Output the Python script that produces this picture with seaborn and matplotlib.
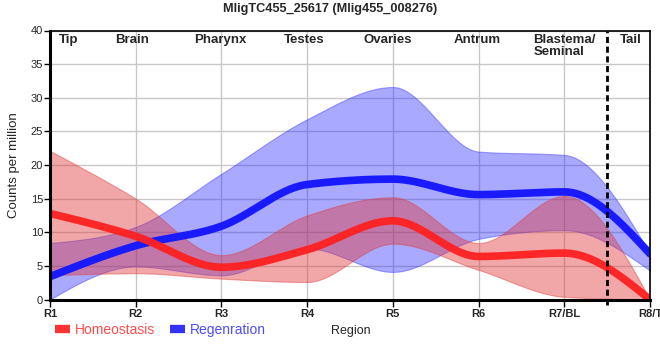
import numpy as np
import pandas as pd
import matplotlib.pyplot as plt
import seaborn as sns
from matplotlib.lines import Line2D

# Valores (counts per million por regiao)
regions = ['R1', 'R2', 'R3', 'R4', 'R5', 'R6', 'R7/BL', 'R8/T']
sections = ['Tip', 'Brain', 'Pharynx', 'Testes', 'Ovaries', 'Antrum', 'Blastema/\nSeminal', 'Tail']
section_pos = [0.22, 0.96, 1.99, 2.96, 3.94, 4.98, 5.64, 6.78]

homeo_mean = [12.8, 9.4, 4.8, 7.4, 11.7, 6.4, 6.9, 0.0]
homeo_low = [3.6, 3.9, 3.1, 2.6, 8.3, 4.4, 0.4, 0.0]
homeo_high = [22.1, 15.0, 6.6, 12.5, 15.2, 8.4, 15.4, 0.0]

regen_mean = [3.4, 8.0, 10.9, 17.1, 17.9, 15.6, 16.0, 6.8]
regen_low = [0.0, 4.9, 3.6, 7.6, 4.1, 9.0, 10.3, 4.3]
regen_high = [8.4, 10.8, 18.7, 26.8, 31.6, 22.0, 21.5, 6.8]


# curva suave monotona (tipo d3 monotoneX) so para desenhar
def monotone(y, n=60):
    y = np.asarray(y, dtype=float)
    x = np.arange(len(y), dtype=float)
    s = np.diff(y)
    t = np.zeros(len(y))
    for i in range(1, len(y) - 1):
        s0, s1 = s[i - 1], s[i]
        p = (s0 + s1) / 2
        t[i] = (np.sign(s0) + np.sign(s1)) * min(abs(s0), abs(s1), 0.5 * abs(p))
    t[0] = (3 * s[0] - t[1]) / 2
    t[-1] = (3 * s[-1] - t[-2]) / 2
    xs, ys = [], []
    for i in range(len(y) - 1):
        u = np.linspace(0, 1, n, endpoint=(i == len(y) - 2))
        h00 = 2 * u**3 - 3 * u**2 + 1
        h10 = u**3 - 2 * u**2 + u
        h01 = -2 * u**3 + 3 * u**2
        h11 = u**3 - u**2
        xs.append(x[i] + u)
        ys.append(h00 * y[i] + h10 * t[i] + h01 * y[i + 1] + h11 * t[i + 1])
    return np.concatenate(xs), np.concatenate(ys)


sns.set_theme(style='whitegrid')
plt.rcParams['font.family'] = ['Liberation Sans', 'DejaVu Sans']

fig = plt.figure(figsize=(6.6, 3.6), dpi=100)
ax = fig.add_axes([50 / 660, 1 - 299.5 / 360, 600 / 660, 269 / 360])

red_line = '#ff2020'
blue_line = '#1a1aff'

# Regeneracao (embaixo)
xs, lo = monotone(regen_low)
_, hi = monotone(regen_high)
ax.fill_between(xs, lo, hi, color='#2828ff', alpha=0.4, lw=0.8)
xs, m = monotone(regen_mean)
sns.lineplot(x=xs, y=m, ax=ax, color=blue_line, lw=5.5, sort=False)

# Homeostase (em cima)
xs, lo = monotone(homeo_low)
_, hi = monotone(homeo_high)
ax.fill_between(xs, lo, hi, color='#e03c3c', alpha=0.45, lw=0.8)
xs, m = monotone(homeo_mean)
sns.lineplot(x=xs, y=m, ax=ax, color=red_line, alpha=0.95, lw=5.5, sort=False)

ax.axvline(6.5, ymin=-0.02, color='black', lw=2, ls=(0, (2.2, 1.3)), clip_on=False)

for lab, p in zip(sections, section_pos):
    ax.text(p, 39.5, lab, ha='center' if '\n' not in lab else 'left', va='top',
            fontsize=9.5, fontweight='bold', linespacing=1.0)

ax.set_xlim(0, 7)
ax.set_ylim(0, 40)
ax.set_xticks(range(len(regions)))
ax.set_xticklabels(regions, fontsize=8, fontweight='bold')
ax.set_yticks(range(0, 41, 5))
ax.tick_params(axis='y', labelsize=8, length=4, width=1, pad=1, left=True, color='black')
ax.tick_params(axis='x', length=5, width=1, pad=2, bottom=True, color='black')
ax.grid(True, color='#c8c8c8', lw=1)
ax.set_xlabel('')
ax.set_ylabel('Counts per million', fontsize=9.5)
ax.yaxis.set_label_coords(-30 / 600, 0.5)

for side in ['left', 'bottom']:
    ax.spines[side].set_color('black')
    ax.spines[side].set_linewidth(2.2)
for side in ['top', 'right']:
    ax.spines[side].set_color('black')
    ax.spines[side].set_linewidth(1.2)

fig.text(0.5, 1 - 9 / 360, 'MligTC455_25617 (Mlig455_008276)', ha='center', va='center',
         fontsize=9.2, fontweight='bold')
fig.text(351 / 660, 1 - 331 / 360, 'Region', ha='center', va='center', fontsize=9)

handles = [Line2D([0], [0], color='#ff3333', lw=6, solid_capstyle='butt'),
           Line2D([0], [0], color='#3333ff', lw=6, solid_capstyle='butt')]
leg = fig.legend(handles, ['Homeostasis', 'Regenration'], loc='center left',
                 bbox_to_anchor=(55 / 660, 1 - 330 / 360), ncol=2, frameon=False,
                 fontsize=10, handlelength=1.1, handletextpad=0.3, columnspacing=1.1,
                 borderpad=0, borderaxespad=0)
for txt, c in zip(leg.get_texts(), ['#ff4d4d', '#4d4dff']):
    txt.set_color(c)

fig.savefig('out.png', dpi=100)
